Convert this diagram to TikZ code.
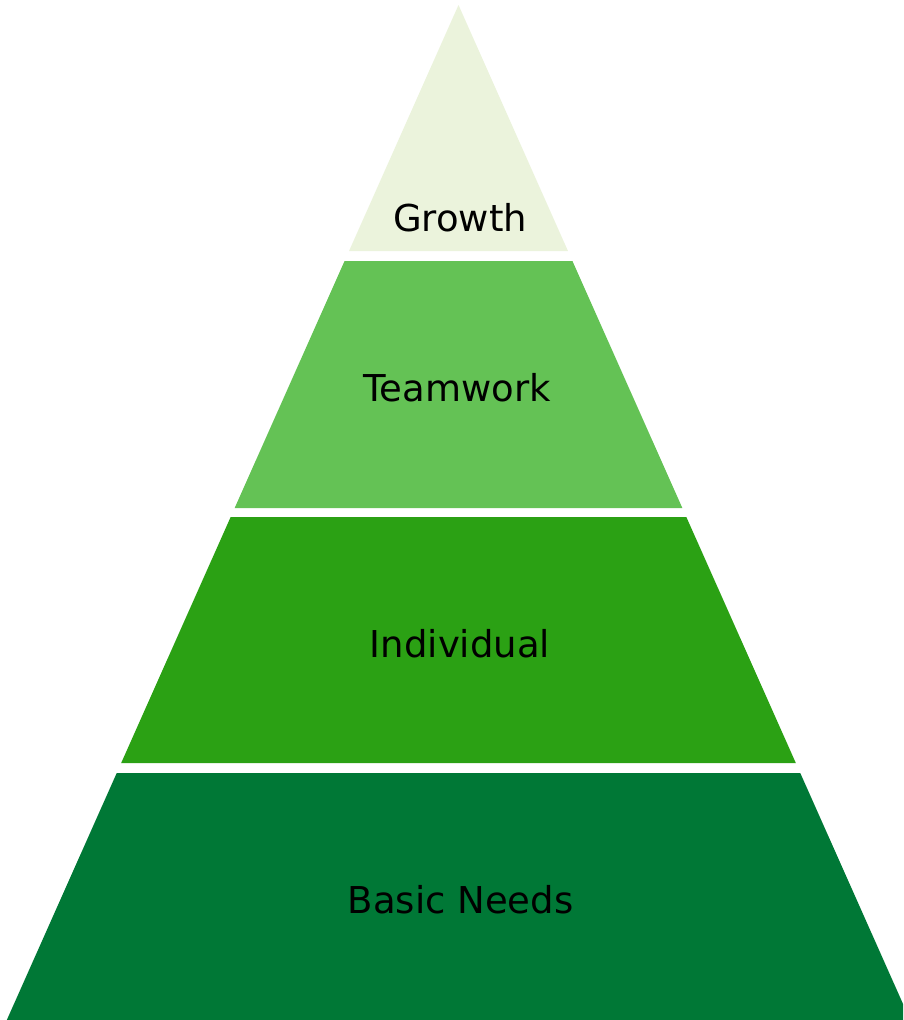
\documentclass[tikz,border=0pt]{standalone}
\usepackage{fontspec}
\setmainfont{DejaVu Sans}
\definecolor{growthgreen}{HTML}{EBF3DC}
\definecolor{teamgreen}{HTML}{64C255}
\definecolor{indivgreen}{HTML}{2BA114}
\definecolor{basicgreen}{HTML}{007836}

\begin{document}
\begin{tikzpicture}[x=1pt,y=-1pt,level/.style={font={\fontsize{37}{44}\selectfont},anchor=base,inner sep=0pt}]
            \useasboundingbox (0,0) rectangle (903,1020);
            \clip (0,0) rectangle (903,1020);

            % tiers of the pyramid: top y / bottom y / colour / label / label x / baseline / name
            \foreach \ya/\yb/\col/\txt/\lx/\bl/\nm in {
                5/251/growthgreen/Growth/460/231/growth,
                261/508/teamgreen/Teamwork/457/401/teamwork,
                517/763/indivgreen/Individual/460/657/individual,
                773/1020/basicgreen/Basic Needs/460.5/913/basicneeds}{
                \pgfmathsetmacro\wa{0.445*(\ya-5)}
                \pgfmathsetmacro\wb{0.445*(\yb-5)}
                \fill[\col] (458.5-\wa,\ya) -- (458.5+\wa,\ya) -- (458.5+\wb,\yb) -- (458.5-\wb,\yb) -- cycle;
                \node[level] (\nm) at (\lx,\bl) {\txt};
            }
        \end{tikzpicture}
\end{document}
